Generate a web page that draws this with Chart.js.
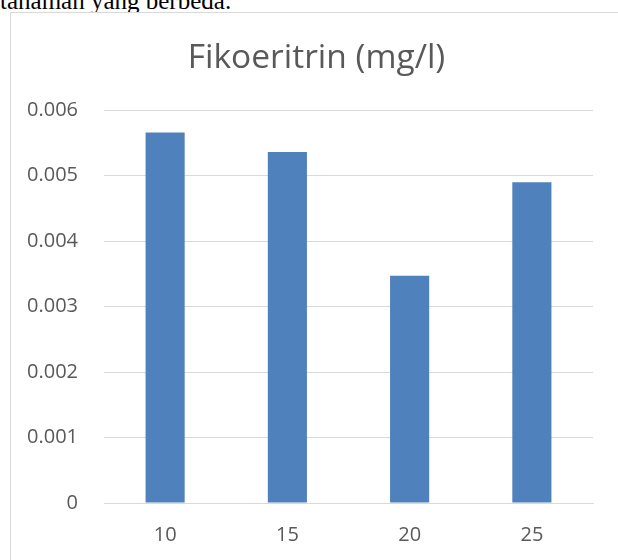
<!DOCTYPE html>
<html>
<head>
<meta charset="utf-8">
<script src="https://cdn.jsdelivr.net/npm/chart.js@4.4.0/dist/chart.umd.min.js"></script>
<style>
  body { margin: 0; background: #fff; width: 618px; height: 560px; overflow: hidden; position: relative; }
  #teks { position: absolute; left: 0; top: -12px; font-family: "Liberation Serif", serif; font-size: 25px; line-height: 25px; color: #000; white-space: nowrap; }
  #bingkai { position: absolute; left: 10px; top: 12px; width: 607px; height: 547px; border-left: 1px solid #d9d9d9; border-top: 1px solid #d9d9d9; background: #fff; }
</style>
</head>
<body>
<div id="teks">tanaman yang berbeda.</div>
<div id="bingkai"><canvas id="grafik" width="607" height="547"></canvas></div>
<script>
// data grafik
const kategori = ['10', '15', '20', '25'];
const nilai = [0.00566, 0.00536, 0.00347, 0.0049];
const labelY = ['0', '0.001', '0.002', '0.003', '0.004', '0.005', '0.006'];
const judul = 'Fikoeritrin (mg/l)';

const abu = '#595959';
const huruf = '"Open Sans", sans-serif';

const ctx = document.getElementById('grafik').getContext('2d');
new Chart(ctx, {
    type: 'bar',
    data: {
        labels: kategori,
        datasets: [{
            label: judul,
            data: nilai,
            backgroundColor: '#4f81bd',
            borderWidth: 0,
            categoryPercentage: 1,
            barPercentage: 0.32
        }]
    },
    options: {
        responsive: false,
        animation: false,
        layout: { padding: { left: 4, right: 0, top: 0, bottom: 0 } },
        plugins: {
            legend: { display: false },
            tooltip: { enabled: false },
            title: {
                display: true,
                text: judul,
                color: abu,
                font: { family: huruf, size: 33.5, weight: 'normal', lineHeight: 1.2 },
                padding: { top: 25, bottom: 32 }
            }
        },
        scales: {
            x: {
                grid: { display: false, drawTicks: false },
                border: { display: true, color: '#d9d9d9', width: 1 },
                ticks: { color: abu, font: { family: huruf, size: 20 }, padding: 20 },
                afterFit: (s) => { s.height = 57; }
            },
            y: {
                min: 0,
                max: 0.006,
                grid: { color: '#d9d9d9', lineWidth: 1, drawTicks: false },
                border: { display: false },
                ticks: {
                    stepSize: 0.001,
                    color: abu,
                    font: { family: huruf, size: 20 },
                    padding: 26,
                    callback: (v, i) => labelY[i]
                },
                afterFit: (s) => { s.width = 89; }
            },
            // sumbu kosong di kanan, cuma buat ruang kosong
            kanan: {
                type: 'linear',
                position: 'right',
                grid: { display: false, drawTicks: false },
                border: { display: false },
                ticks: { display: false },
                afterFit: (s) => { s.width = 25; }
            }
        }
    }
});
</script>
</body>
</html>
